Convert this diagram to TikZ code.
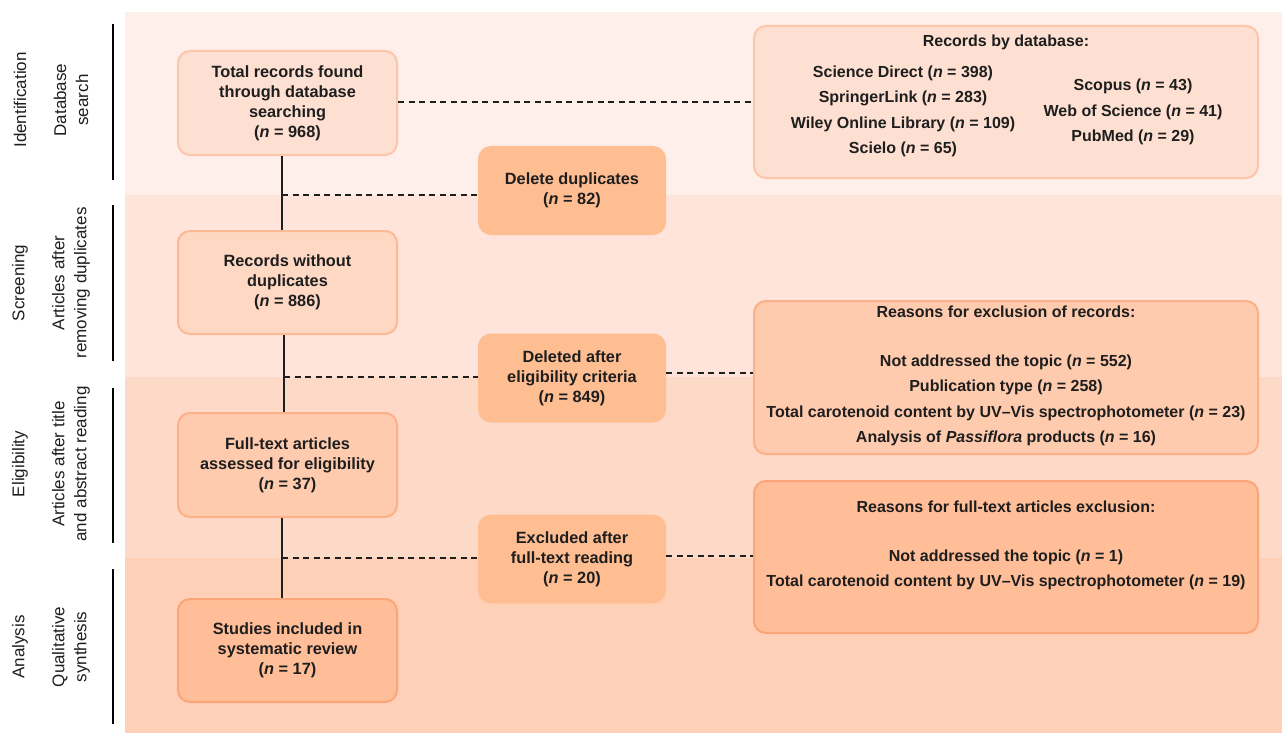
\documentclass[tikz,border=0pt]{standalone}
\usepackage{fontspec}
\setmainfont{Liberation Sans}
\definecolor{bandA}{HTML}{FEEFEA}
\definecolor{bandB}{HTML}{FEE4DA}
\definecolor{bandC}{HTML}{FDD9C8}
\definecolor{bandD}{HTML}{FED0B8}
\definecolor{fillA}{HTML}{FEE0D2}
\definecolor{lineA}{HTML}{FDC6AA}
\definecolor{fillB}{HTML}{FFD8C4}
\definecolor{lineB}{HTML}{FCB996}
\definecolor{fillC}{HTML}{FFCBAE}
\definecolor{lineC}{HTML}{FDAF87}
\definecolor{fillD}{HTML}{FFBE97}
\definecolor{lineD}{HTML}{FBA57A}
\definecolor{midfill}{HTML}{FFBD92}
\definecolor{ink}{HTML}{1E1E1E}
\newcommand{\nn}{\textit{n}}
\begin{document}
\begin{tikzpicture}[x=1pt,y=-1pt,
  box/.style={rounded corners=12pt,line width=2pt,align=center,inner sep=0pt,
    font=\fontsize{16.3}{20}\selectfont\bfseries,text=ink},
  midbox/.style={box,fill=midfill,draw=midfill,minimum width=186pt,minimum height=87pt},
  txt/.style={font=\fontsize{16}{20}\selectfont\bfseries,text=ink,align=center,inner sep=0pt},
  side/.style={font=\fontsize{17}{22}\selectfont,text=ink,align=center,rotate=90,inner sep=0pt},
  solidline/.style={line width=2.5pt,draw=ink},
  dashline/.style={line width=2.5pt,draw=ink,dash pattern=on 6pt off 4.5pt},
  sidebar/.style={line width=2.5pt,draw=black}]
\useasboundingbox (0,0) rectangle (1282,733);
% bands
\fill[bandA] (125,12) rectangle (1282,195);
\fill[bandB] (125,195) rectangle (1282,377);
\fill[bandC] (125,377) rectangle (1282,558);
\fill[bandD] (125,558) rectangle (1282,733);
% side bars
\draw[sidebar] (113,24) -- (113,180);
\draw[sidebar] (113,205) -- (113,361);
\draw[sidebar] (113,388) -- (113,543);
\draw[sidebar] (113,569) -- (113,724);
% side labels
\node[side] (l1a) at (20,100) {Identification};
\node[side] (l1b) at (71,100) {Database\\search};
\node[side] (l2a) at (20,283) {Screening};
\node[side] (l2b) at (71,283) {Articles after\\removing duplicates};
\node[side] (l3a) at (20,464) {Eligibility};
\node[side] (l3b) at (71,464) {Articles after title\\and abstract reading};
\node[side] (l4a) at (20,647) {Analysis};
\node[side] (l4b) at (71,647) {Qualitative\\synthesis};
% left boxes
\node[box,fill=fillA,draw=lineA,minimum width=219pt,minimum height=104pt] (b1) at (287.5,103)
  {Total records found\\through database\\searching\\(\nn{} = 968)};
\node[box,fill=fillB,draw=lineB,minimum width=219pt,minimum height=103pt] (b2) at (287.5,282.5)
  {Records without\\duplicates\\(\nn{} = 886)};
\node[box,fill=fillC,draw=lineC,minimum width=219pt,minimum height=104pt] (b3) at (287.5,465)
  {Full-text articles\\assessed for eligibility\\(\nn{} = 37)};
\node[box,fill=fillD,draw=lineD,minimum width=219pt,minimum height=103pt] (b4) at (287.5,650.5)
  {Studies included in\\systematic review\\(\nn{} = 17)};
% middle boxes
\node[midbox] (m1) at (572,190.5) {Delete duplicates\\(\nn{} = 82)};
\node[midbox] (m2) at (572,378) {Deleted after\\eligibility criteria\\(\nn{} = 849)};
\node[midbox] (m3) at (572,559) {Excluded after\\full-text reading\\(\nn{} = 20)};
% right boxes
\node[box,fill=fillA,draw=lineA,minimum width=504pt,minimum height=152pt] (r1) at (1006,102) {};
\node[txt] (r1t) at (1006,42) {Records by database:};
\node[txt] (r1l) at (903,111.5) {Science Direct (\nn{} = 398)\\[5.3pt]SpringerLink (\nn{} = 283)\\[5.3pt]Wiley Online Library (\nn{} = 109)\\[5.3pt]Scielo (\nn{} = 65)};
\node[txt] (r1r) at (1133,112) {Scopus (\nn{} = 43)\\[5.3pt]Web of Science (\nn{} = 41)\\[5.3pt]PubMed (\nn{} = 29)};
\node[box,fill=fillC,draw=lineC,minimum width=504pt,minimum height=153pt] (r2) at (1006,377.5) {};
\node[txt] (r2t) at (1006,312) {Reasons for exclusion of records:};
\node[txt] (r2l) at (1006,400.5) {Not addressed the topic (\nn{} = 552)\\[5.5pt]Publication type (\nn{} = 258)\\[5.5pt]Total carotenoid content by UV\textendash Vis spectrophotometer (\nn{} = 23)\\[5.5pt]Analysis of \textit{Passiflora} products (\nn{} = 16)};
\node[box,fill=fillD,draw=lineD,minimum width=504pt,minimum height=152pt] (r3) at (1006,557) {};
\node[txt] (r3t) at (1006,507) {Reasons for full-text articles exclusion:};
\node[txt] (r3l) at (1006,570) {Not addressed the topic (\nn{} = 1)\\[5.5pt]Total carotenoid content by UV\textendash Vis spectrophotometer (\nn{} = 19)};
% solid connectors (spine at x = 282)
\coordinate (j1) at (282,195);
\coordinate (j2) at (284,377);
\coordinate (j3) at (282,558);
\draw[solidline] (b1.south -| j1) -- (b2.north -| j1);
\draw[solidline] (b2.south -| j2) -- (b3.north -| j2);
\draw[solidline] (b3.south -| j3) -- (b4.north -| j3);
% dashed connectors
\draw[dashline] (b1.east |- 0,102) -- (r1.west |- 0,102);
\draw[dashline] (j1) -- (m1.west |- j1);
\draw[dashline] (j2) -- (m2.west |- j2);
\draw[dashline] (m2.east |- 0,373) -- (r2.west |- 0,373);
\draw[dashline] (j3) -- (m3.west |- j3);
\draw[dashline] (m3.east |- 0,556) -- (r3.west |- 0,556);
\end{tikzpicture}
\end{document}
